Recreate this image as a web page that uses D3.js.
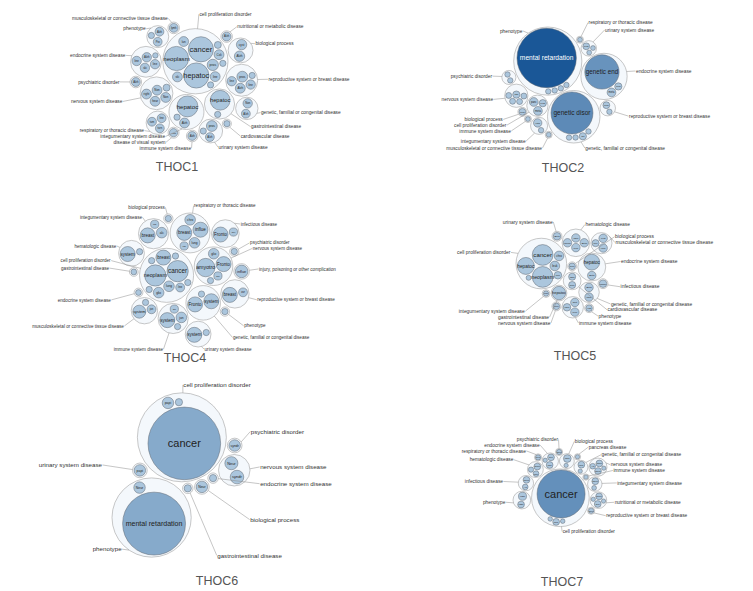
<!DOCTYPE html>
<html>
<head>
<meta charset="utf-8">
<script src="https://cdn.jsdelivr.net/npm/d3@7"></script>
<style>
  body { margin: 0; background: #fff; }
  svg { display: block; font-family: "Liberation Sans", Arial, sans-serif; }
</style>
</head>
<body>
<div id="chart"></div>
<script>
// Each gene entry: [short label, bubble size, gene count used for colour (default 1)]
const panelNames = ["THOC1", "THOC2", "THOC4", "THOC5", "THOC6", "THOC7"];

const thoc1Terms = [
  "cell proliferation disorder", "gastrointestinal disease", "urinary system disease",
  "psychiatric disorder", "disease of visual system", "phenotype",
  "musculoskeletal or connective tissue disease", "respiratory or thoracic disease",
  "genetic, familial or congenital disease", "nutritional or metabolic disease",
  "cardiovascular disease", "immune system disease", "biological process",
  "integumentary system disease", "endocrine system disease",
  "reproductive system or breast disease", "nervous system disease"
];
const thoc1Genes = [
  [["neoplasm", 6], ["cancer", 6.5], ["hepatoc", 6.5], ["pros", 1.3], ["Coli", 1], ["line", 1], ["lun", 1], ["ski", 1], ["", 0.4], ["", 0.4], ["", 0.5]],
  [["hepatoc", 4], ["", 0.4]],
  [["Alzh", 0.8], ["pros", 1.2], ["", 0.4]],
  [["Alzh", 0.8]],
  [["Alzh", 0.7]],
  [["Alzh", 0.8], ["Pro", 0.8], ["", 0.4]],
  [["lymh", 0.8]],
  [["line", 0.8], ["turn", 0.8], ["tum", 0.8]],
  [["Alzh", 0.8], ["Non", 0.9]],
  [["Alzh", 0.8]],
  [["", 0.4]],
  [["Alzh", 0.8]],
  [["cyst", 1.1], ["Alzh", 1.1]],
  [["hepatoc", 4.5], ["Alzh", 1], ["", 0.4]],
  [["Alzh", 0.9], ["ski", 0.9], ["line", 0.9], ["line", 0.9], ["", 0.3]],
  [["pros", 1.2], ["Alzh", 1], ["line", 0.9], ["line", 0.9], ["", 0.4]],
  [["Non", 1], ["hear", 1], ["right", 1], ["Non", 1], ["", 0.5]]
];

const thoc2Terms = [
  "phenotype", "genetic, familial or congenital disease", "endocrine system disease",
  "cell proliferation disorder", "nervous system disease", "reproductive system or breast disease",
  "urinary system disease", "psychiatric disorder", "integumentary system disease",
  "immune system disease", "musculoskeletal or connective tissue disease",
  "respiratory or thoracic disease", "biological process"
];
const thoc2Genes = [
  [["mental retardation", 60, 40], ["", 0.5], ["", 0.5], ["", 0.5], ["", 0.5]],
  [["genetic disor", 30, 22], ["iwt", 0.9], ["", 0.5], ["", 0.5], ["", 0.5]],
  [["genetic end", 20, 19], ["meta", 1.3], ["ovar", 0.9]],
  [["ovar", 0.9], ["panc", 1.3], ["meta", 1.3]],
  [["ladl", 0.9], ["", 0.6], ["", 0.6], ["", 0.6], ["", 0.6]],
  [["ovar", 0.8], ["", 0.5]],
  [["ovar", 0.8], ["", 0.4], ["", 0.4]],
  [["", 0.5], ["", 0.5]],
  [["reta", 1.2], ["", 0.5]],
  [["", 0.4]],
  [["", 0.4]],
  [["", 0.4]],
  [["ovar", 0.8]]
];

const thoc4Terms = [
  "cell proliferation disorder", "respiratory or thoracic disease",
  "genetic, familial or congenital disease", "musculoskeletal or connective tissue disease",
  "reproductive system or breast disease", "hematologic disease", "nervous system disease",
  "urinary system disease", "integumentary system disease", "immune system disease",
  "infectious disease", "injury, poisoning or other complication", "biological process",
  "psychiatric disorder", "phenotype", "endocrine system disease", "gastrointestinal disease"
];
const thoc4Genes = [
  [["neoplasm", 4], ["cancer", 4], ["breast", 2], ["lung", 1], ["glio", 1], ["line", 0.7], ["", 0.35], ["", 0.35], ["", 0.35], ["", 0.35]],
  [["breast", 2], ["chro", 1], ["influe", 2], ["lung", 1], ["chr", 0.6]],
  [["Fronto", 2], ["system", 2], ["", 0.35]],
  [["system", 1.5], ["jun", 0.7], ["", 0.35]],
  [["breast", 2], ["ovr", 0.7]],
  [["system", 2], ["", 0.35]],
  [["Fronto", 2], ["amyotro", 3], ["glio", 1], ["ser", 0.6], ["", 0.35]],
  [["system", 2], ["", 0.35]],
  [["breast", 2], ["chr", 0.6], ["alc", 1]],
  [["system", 2], ["alo", 0.6], ["jun", 1], ["", 0.35]],
  [["Fronto", 2], ["ber", 0.6]],
  [["influe", 1.4]],
  [["", 0.35]],
  [["", 0.35]],
  [["", 0.35]],
  [["", 0.3]],
  [["", 0.3]]
];

const thoc5Terms = [
  "cell proliferation disorder", "gastrointestinal disease", "biological process",
  "integumentary system disease", "cardiovascular disease", "phenotype", "infectious disease",
  "musculoskeletal or connective tissue disease", "genetic, familial or congenital disease",
  "hematologic disease", "endocrine system disease", "immune system disease",
  "urinary system disease", "nervous system disease"
];
const thoc5Genes = [
  [["cancer", 6], ["neoplasm", 6], ["hepatoc", 4], ["leuk", 1.3], ["chro", 1.3], ["neo", 0.8], ["", 0.35]],
  [["hepatoc", 2.5]],
  [["Neu", 0.6]],
  [["pso", 0.4]],
  [["Sha", 0.7], ["Neu", 0.7]],
  [["Hist", 0.6]],
  [["pancr", 0.8]],
  [["Ure", 0.7], ["cyst", 1], ["leuk", 1]],
  [["Beta", 1], ["chro", 1]],
  [["chro", 1], ["leuk", 1], ["anem", 1], ["Beta", 1]],
  [["Beta", 1], ["hepatoc", 3.5]],
  [["chro", 0.8], ["sort", 1], ["leuk", 1]],
  [["Beta", 0.8]],
  [["Neu", 0.6]]
];

const thoc6Terms = [
  "cell proliferation disorder", "phenotype", "nervous system disease", "biological process",
  "psychiatric disorder", "urinary system disease", "gastrointestinal disease",
  "endocrine system disease"
];
const thoc6Genes = [
  [["cancer", 40, 11], ["papi", 1], ["", 0.4]],
  [["mental retardation", 30, 11], ["Neur", 1]],
  [["Neur", 1.3], ["syndr", 1.4]],
  [["Neur", 1]],
  [["syndr", 1]],
  [["papi", 1]],
  [["", 0.4]],
  [["", 0.4]]
];

const thoc7Terms = [
  "cell proliferation disorder", "nutritional or metabolic disease", "integumentary system disease",
  "infectious disease", "nervous system disease", "hematologic disease",
  "reproductive system or breast disease", "immune system disease", "endocrine system disease",
  "phenotype", "genetic, familial or congenital disease", "psychiatric disorder",
  "biological process", "respiratory or thoracic disease", "pancreas disease"
];
const thoc7Genes = [
  [["cancer", 50, 20], ["mul", 1], ["", 0.45], ["", 0.45]],
  [["Neur", 1], ["hyp", 1], ["", 0.4], ["", 0.4]],
  [["Neur", 1], ["", 0.5]],
  [["Alz", 0.7], ["Neur", 1]],
  [["Neur", 1], ["Alz", 0.7], ["Neur", 1], ["", 0.4]],
  [["mul", 0.7], ["Neur", 1], ["", 0.6]],
  [["Neu", 0.6]],
  [["", 0.4]],
  [["hyp", 1], ["mul", 1], ["", 0.4]],
  [["vasc", 1], ["vasc", 1.4]],
  [["mul", 1], ["", 0.4]],
  [["Neu", 0.6]],
  [["chro", 1.3], ["", 0.4]],
  [["hyp", 0.6]],
  [["", 0.4]]
];

const panelTerms = [thoc1Terms, thoc2Terms, thoc4Terms, thoc5Terms, thoc6Terms, thoc7Terms];
const panelGenes = [thoc1Genes, thoc2Genes, thoc4Genes, thoc5Genes, thoc6Genes, thoc7Genes];

/*******************************/
/*    Layout of the page       */
/*******************************/
const width = 753;
const height = 591;
// box that each bubble cluster is fitted into: [x0, y0, x1, y1]
const clusterBoxes = [
  [130, 12, 258, 153],
  [499, 27, 630, 143],
  [110, 213, 258, 347],
  [495, 229, 633, 318],
  [112, 380, 250, 570],
  [513, 410, 607, 565]
];
const titlePos = [[177, 171], [563, 172], [185, 362], [575, 360], [217, 585], [562, 586]];
// term circles packed largest first ("size") or in alphabetical order ("alpha")
const packOrder = ["size", "size", "size", "alpha", "alpha", "alpha"];
const rotations = [100, 65, -11, 90, -112, 100];
const flips = [false, true, true, false, false, false];
const labelSizes = [4.8, 4.8, 4.6, 4.9, 6.2, 4.8];

const colorScale = d3.scaleLinear()
  .domain([1, 40])
  .range(["#abc6dd", "#1a5797"])
  .clamp(true);

const svg = d3.select("#chart")
  .append("svg")
    .attr("width", width)
    .attr("height", height);

const drawPanel = (p) => {
  const [bx0, by0, bx1, by1] = clusterBoxes[p];

  /*******************************/
  /*    Pack the hierarchy       */
  /*******************************/
  const tree = {
    children: panelTerms[p].map((term, i) => ({
      term,
      children: panelGenes[p][i].map(([label, value, count]) => ({ label, value, count: count || 1 }))
    }))
  };
  const byName = packOrder[p] === "alpha";
  const root = d3.hierarchy(tree)
    .sum(d => d.value || 0)
    .sort((a, b) => (a.depth === 1 && byName) ? d3.ascending(a.data.term, b.data.term) : b.value - a.value);
  d3.pack()
    .radius(d => Math.sqrt(d.value) * 5)
    .padding(1.4)(root);

  // Rotate / mirror the packed layout around the root
  const a = rotations[p] * Math.PI / 180;
  const sy = flips[p] ? -1 : 1;
  root.each(n => {
    const x = n.x - root.x, y = (n.y - root.y) * sy;
    n.px = x * Math.cos(a) - y * Math.sin(a);
    n.py = x * Math.sin(a) + y * Math.cos(a);
  });

  const groups = root.children;
  const minX = d3.min(groups, g => g.px - g.r);
  const maxX = d3.max(groups, g => g.px + g.r);
  const minY = d3.min(groups, g => g.py - g.r);
  const maxY = d3.max(groups, g => g.py + g.r);
  const k = Math.min((bx1 - bx0) / (maxX - minX), (by1 - by0) / (maxY - minY));
  const cx = (bx0 + bx1) / 2;
  const cy = (by0 + by1) / 2;
  const hw = k * (maxX - minX) / 2;
  const hh = k * (maxY - minY) / 2;

  const xScale = d3.scaleLinear().domain([minX, maxX]).range([cx - hw, cx + hw]);
  const yScale = d3.scaleLinear().domain([minY, maxY]).range([cy - hh, cy + hh]);

  const panel = svg.append("g").attr("class", `panel-${panelNames[p]}`);

  /*****************************/
  /*     Term circles          */
  /*****************************/
  panel.selectAll(".term")
    .data(groups)
    .join("circle")
      .attr("class", "term")
      .attr("cx", d => xScale(d.px))
      .attr("cy", d => yScale(d.py))
      .attr("r", d => d.r * k)
      .attr("fill", "#f4f8fc")
      .attr("stroke", "#a3a3a3")
      .attr("stroke-width", 0.6);

  /*****************************/
  /*     Gene circles          */
  /*****************************/
  const genes = root.leaves();

  panel.selectAll(".gene")
    .data(genes)
    .join("circle")
      .attr("class", "gene")
      .attr("cx", d => xScale(d.px))
      .attr("cy", d => yScale(d.py))
      .attr("r", d => d.r * k)
      .attr("fill", d => colorScale(d.data.count))
      .attr("stroke", "#5f6670")
      .attr("stroke-width", 0.5);

  panel.selectAll(".gene-label")
    .data(genes.filter(d => d.data.label))
    .join("text")
      .attr("class", "gene-label")
      .attr("x", d => xScale(d.px))
      .attr("y", d => yScale(d.py))
      .attr("dy", "0.35em")
      .attr("text-anchor", "middle")
      .attr("font-size", d => {
        const rs = d.r * k;
        return Math.max(2.5, Math.min(rs * 0.6, 2.1 * rs / (d.data.label.length * 0.52), 11));
      })
      .attr("fill", d => d.data.count > 30 ? "#fff" : "#222")
      .text(d => d.data.label);

  /*****************************/
  /*     Term labels           */
  /*****************************/
  const fs = labelSizes[p];
  const yMin = cy - hh - 9;
  const yMax = Math.min(cy + hh + 5, titlePos[p][1] - 13);
  const discs = groups.map(g => ({ x: xScale(g.px), y: yScale(g.py), r: g.r * k }));
  const inside = (x, y) => discs.some(c => Math.hypot(x - c.x, y - c.y) < c.r + 3);

  const labels = groups.map((g, i) => {
    const { x: gx, y: gy, r: gr } = discs[i];
    let ang = Math.atan2(gy - cy, gx - cx);
    if (Math.hypot(gx - cx, gy - cy) < 2) ang = -Math.PI / 4;
    const right = Math.cos(ang) >= 0;
    const term = g.data.term;
    return {
      term, ang, right,
      w: term.length * fs * 0.5,
      sx: gx + gr * Math.cos(ang),
      sy: gy + gr * Math.sin(ang),
      x: cx + (hw + 10) * Math.cos(ang),
      y: Math.max(yMin, Math.min(yMax, cy + (hh + 8) * Math.sin(ang)))
    };
  });

  // Move a label sideways out of any term circle it sits in
  const pushOut = l => {
    let n = 0;
    while (inside(l.x, l.y) && n++ < 80) l.x += l.right ? 1 : -1;
  };
  labels.forEach(pushOut);

  // Nudge overlapping labels apart, keeping them near the cluster
  for (let it = 0; it < 300; it++) {
    labels.forEach((l1, i) => {
      labels.forEach((l2, j) => {
        if (j <= i) return;
        const a0 = l1.right ? l1.x : l1.x - l1.w, a1 = l1.right ? l1.x + l1.w : l1.x;
        const b0 = l2.right ? l2.x : l2.x - l2.w, b1 = l2.right ? l2.x + l2.w : l2.x;
        if (a1 < b0 || b1 < a0) return;
        const dy = l2.y - l1.y;
        const need = fs * 1.2;
        if (Math.abs(dy) < need) {
          const push = (need - Math.abs(dy)) / 2 * (dy > 0 || (dy === 0 && j > i) ? 1 : -1);
          l1.y -= push;
          l2.y += push;
        }
      });
    });
    labels.forEach(l => { l.y = Math.max(yMin, Math.min(yMax, l.y)); });
  }
  labels.forEach(pushOut);

  panel.selectAll(".leader")
    .data(labels)
    .join("line")
      .attr("class", "leader")
      .attr("x1", d => d.sx)
      .attr("y1", d => d.sy)
      .attr("x2", d => d.x)
      .attr("y2", d => d.y)
      .attr("stroke", "#8c8c8c")
      .attr("stroke-width", 0.5);

  panel.selectAll(".term-label")
    .data(labels)
    .join("text")
      .attr("class", "term-label")
      .attr("x", d => d.right ? d.x + 0.5 : d.x - 0.5)
      .attr("y", d => d.y)
      .attr("dy", "0.35em")
      .attr("text-anchor", d => d.right ? "start" : "end")
      .attr("font-size", fs)
      .attr("fill", "#333")
      .text(d => d.term);

  // Panel title
  panel.append("text")
    .attr("x", titlePos[p][0])
    .attr("y", titlePos[p][1])
    .attr("text-anchor", "middle")
    .attr("font-size", 12.5)
    .attr("fill", "#555")
    .text(panelNames[p]);
};

panelNames.forEach((name, p) => drawPanel(p));
</script>
</body>
</html>
